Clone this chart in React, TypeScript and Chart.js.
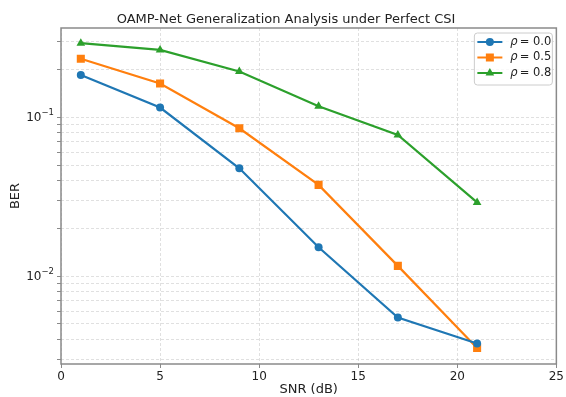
import React, { useEffect, useRef } from "react";
import { Chart, registerables } from "chart.js";

Chart.register(...registerables);

const snrDb = [1, 5, 9, 13, 17, 21];
const berRho00 = [0.184, 0.115, 0.0477, 0.0152, 0.00549, 0.00377];
const berRho05 = [0.233, 0.163, 0.0852, 0.0375, 0.0116, 0.00353];
const berRho08 = [0.292, 0.265, 0.194, 0.117, 0.0773, 0.0291];
const seriesRho = ["0.0", "0.5", "0.8"];
const seriesColors = ["#1f77b4", "#ff7f0e", "#2ca02c"];
const seriesMarkers = ["circle", "rect", "triangle"];
const xTicks = [0, 5, 10, 15, 20, 25];
const yMajorTicks = [0.01, 0.1];
const yMajorExponents = ["−2", "−1"];
const yMinorTicks = [0.003, 0.004, 0.005, 0.006, 0.007, 0.008, 0.009, 0.02, 0.03, 0.04, 0.05, 0.06, 0.07, 0.08, 0.09, 0.2, 0.3];
const yMin = 0.0028;
const yMax = 0.364;
const titleText = "OAMP-Net Generalization Analysis under Perfect CSI";
const xLabel = "SNR (dB)";
const yLabel = "BER";

const FONT = "'DejaVu Sans', sans-serif";

function drawMarker(ctx: CanvasRenderingContext2D, style: string, x: number, y: number, color: string) {
  ctx.save();
  ctx.fillStyle = color;
  ctx.beginPath();
  if (style === "circle") {
    ctx.arc(x, y, 4, 0, Math.PI * 2);
  } else if (style === "rect") {
    ctx.rect(x - 4, y - 4, 8, 8);
  } else {
    const r = 5;
    ctx.moveTo(x, y - r);
    ctx.lineTo(x + r * Math.sin((2 * Math.PI) / 3), y - r * Math.cos((2 * Math.PI) / 3));
    ctx.lineTo(x + r * Math.sin((4 * Math.PI) / 3), y - r * Math.cos((4 * Math.PI) / 3));
    ctx.closePath();
  }
  ctx.fill();
  ctx.restore();
}

const framePlugin = {
  id: "frame",
  afterDatasetsDraw(chart: any) {
    const { ctx, chartArea } = chart;
    ctx.save();
    ctx.strokeStyle = "#8a8a8a";
    ctx.lineWidth = 1.5;
    ctx.strokeRect(chartArea.left, chartArea.top, chartArea.right - chartArea.left, chartArea.bottom - chartArea.top);
    ctx.restore();
  },
};

const titlePlugin = {
  id: "customTitle",
  afterDraw(chart: any) {
    const { ctx } = chart;
    ctx.save();
    ctx.fillStyle = "#222";
    ctx.font = `13px ${FONT}`;
    ctx.textAlign = "center";
    ctx.textBaseline = "alphabetic";
    ctx.fillText(titleText, 286, 23);
    ctx.restore();
  },
};

const yLabelPlugin = {
  id: "yPowLabels",
  afterDraw(chart: any) {
    const { ctx } = chart;
    const scale = chart.scales.y;
    ctx.save();
    ctx.fillStyle = "#222";
    yMajorTicks.forEach((v, i) => {
      const y = scale.getPixelForValue(v);
      ctx.font = `8.5px ${FONT}`;
      const ew = ctx.measureText(yMajorExponents[i]).width;
      ctx.font = `12px ${FONT}`;
      const bw = ctx.measureText("10").width;
      const right = scale.right - 7;
      ctx.textAlign = "left";
      ctx.textBaseline = "middle";
      ctx.fillText("10", right - ew - bw, y + 0.5);
      ctx.font = `8.5px ${FONT}`;
      ctx.fillText(yMajorExponents[i], right - ew, y - 4);
    });
    ctx.restore();
  },
};

const legendPlugin = {
  id: "customLegend",
  afterDraw(chart: any) {
    const { ctx, chartArea } = chart;
    const w = 78;
    const h = 52;
    const x0 = chartArea.right - w - 4;
    const y0 = chartArea.top + 5;
    ctx.save();
    ctx.beginPath();
    const r = 3;
    ctx.moveTo(x0 + r, y0);
    ctx.lineTo(x0 + w - r, y0);
    ctx.quadraticCurveTo(x0 + w, y0, x0 + w, y0 + r);
    ctx.lineTo(x0 + w, y0 + h - r);
    ctx.quadraticCurveTo(x0 + w, y0 + h, x0 + w - r, y0 + h);
    ctx.lineTo(x0 + r, y0 + h);
    ctx.quadraticCurveTo(x0, y0 + h, x0, y0 + h - r);
    ctx.lineTo(x0, y0 + r);
    ctx.quadraticCurveTo(x0, y0, x0 + r, y0);
    ctx.closePath();
    ctx.fillStyle = "rgba(255,255,255,0.8)";
    ctx.fill();
    ctx.strokeStyle = "#cccccc";
    ctx.lineWidth = 1;
    ctx.stroke();
    chart.data.datasets.forEach((ds: any, i: number) => {
      const yy = y0 + 9 + i * 15.5;
      ctx.strokeStyle = ds.borderColor;
      ctx.lineWidth = 2;
      ctx.beginPath();
      ctx.moveTo(x0 + 3, yy);
      ctx.lineTo(x0 + 28, yy);
      ctx.stroke();
      drawMarker(ctx, ds.pointStyle, x0 + 15.5, yy, ds.borderColor);
      ctx.fillStyle = "#222";
      ctx.textBaseline = "middle";
      ctx.textAlign = "left";
      ctx.font = `italic 11.5px ${FONT}`;
      const tx = x0 + 36;
      ctx.fillText("ρ", tx, yy);
      const rw = ctx.measureText("ρ").width;
      ctx.font = `11.5px ${FONT}`;
      ctx.fillText("= " + seriesRho[i], tx + rw + 2, yy);
    });
    ctx.restore();
  },
};

export default function App() {
  const ref = useRef<HTMLCanvasElement | null>(null);
  useEffect(() => {
    document.body.style.margin = "0";
    const canvas = ref.current;
    if (!canvas) return;
    const seriesData = [berRho00, berRho05, berRho08];
    const chart = new Chart(canvas, {
      type: "line",
      data: {
        datasets: seriesData.map((vals, i) => ({
          label: "ρ = " + seriesRho[i],
          data: snrDb.map((x, j) => ({ x, y: vals[j] })),
          borderColor: seriesColors[i],
          backgroundColor: seriesColors[i],
          borderWidth: 2.2,
          pointStyle: seriesMarkers[i] as any,
          pointRadius: seriesMarkers[i] === "circle" ? 4 : seriesMarkers[i] === "rect" ? 5.7 : 5,
          pointBorderWidth: 0,
          tension: 0,
          fill: false,
        })),
      },
      options: {
        animation: false,
        responsive: false,
        layout: { padding: { left: 0, right: 9, top: 28, bottom: 0 } },
        plugins: {
          legend: { display: false },
          title: { display: false },
          tooltip: { enabled: false },
        },
        scales: {
          x: {
            type: "linear",
            min: 0,
            max: 25,
            afterBuildTicks: (axis: any) => {
              axis.ticks = xTicks.map((v) => ({ value: v }));
            },
            afterFit: (axis: any) => {
              axis.height = 33;
            },
            ticks: {
              autoSkip: false,
              maxRotation: 0,
              padding: 2,
              color: "#222",
              font: { family: FONT, size: 12 },
            },
            grid: {
              color: "rgba(190,190,190,0.6)",
              lineWidth: 0.8,
              drawTicks: true,
              tickLength: 4,
              tickColor: "#8a8a8a",
              tickWidth: 1,
            },
            border: { display: false, dash: [3, 2] },
            title: {
              display: true,
              text: xLabel,
              color: "#222",
              font: { family: FONT, size: 13 },
              padding: { top: 0, bottom: 0 },
            },
          },
          y: {
            type: "logarithmic",
            min: yMin,
            max: yMax,
            afterBuildTicks: (axis: any) => {
              const all = [...yMinorTicks, ...yMajorTicks].sort((a, b) => a - b);
              axis.ticks = all.map((v) => ({ value: v }));
            },
            afterFit: (axis: any) => {
              axis.width = 61;
            },
            ticks: {
              autoSkip: false,
              padding: 3,
              color: "#222",
              font: { family: FONT, size: 12 },
              callback: () => "",
            },
            grid: {
              color: "rgba(190,190,190,0.6)",
              lineWidth: 0.8,
              drawTicks: true,
              tickLength: 4,
              tickColor: "#8a8a8a",
              tickWidth: 1,
            },
            border: { display: false, dash: [3, 2] },
            title: {
              display: true,
              text: yLabel,
              color: "#222",
              font: { family: FONT, size: 13 },
              padding: { top: 8, bottom: 0 },
            },
          },
        },
      },
      plugins: [framePlugin, titlePlugin, yLabelPlugin, legendPlugin],
    } as any);
    return () => chart.destroy();
  }, []);
  return (
    <div style={{ width: 566, height: 397 }}>
      <canvas ref={ref} width={566} height={397} style={{ display: "block" }} />
    </div>
  );
}
